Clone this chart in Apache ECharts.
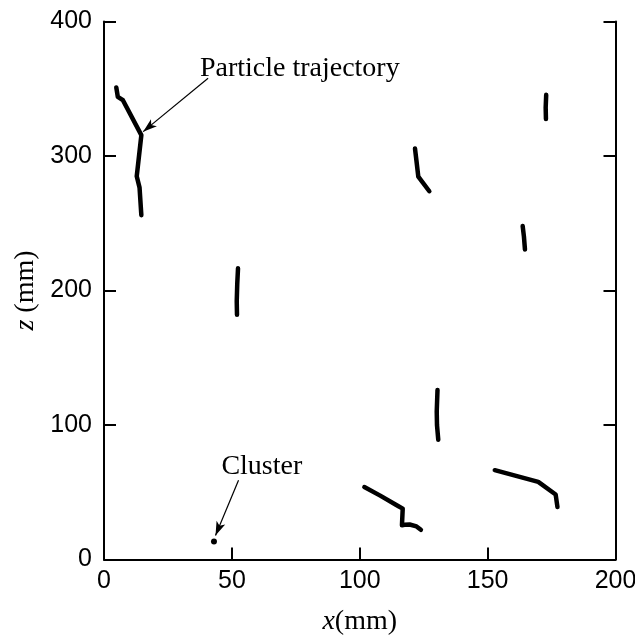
<!DOCTYPE html>
<html>
<head>
<meta charset="utf-8">
<script src="https://cdn.jsdelivr.net/npm/echarts@6/dist/echarts.min.js"></script>
<style>html,body{margin:0;padding:0;background:#fff}#c{width:635px;height:636px}</style>
</head>
<body>
<div id="c"></div>
<script>
// Axis ticks
const xTicks = [0, 50, 100, 150, 200];
const zTicks = [0, 100, 200, 300, 400];

// Particle trajectories (x mm, z mm)
const traj1 = [[4.8,351],[5.4,344],[7.4,341.5],[14.6,315.5],[12.8,285],[13.9,276.5],[14.6,256]];
const traj2 = [[52.4,216.5],[52.1,205],[51.9,192],[52.0,182]];
const traj3 = [[121.6,305.5],[122.2,296],[122.9,284.6],[127.2,273.8]];
const traj4 = [[172.9,345.5],[172.7,336],[172.8,327.5]];
const traj5 = [[163.7,248],[164.2,240],[164.6,230.5]];
const traj6 = [[130.4,126],[130.1,110],[130.2,100],[130.7,89]];
const traj7 = [[101.8,53.9],[108,47.5],[114.8,40],[116.8,37.8],[116.5,25.4],[117.5,25.8],[119.5,26],[122.2,24.6],[123.9,22.1]];
const traj8 = [[152.8,66.4],[169.8,57.7],[176.6,48.3],[177.3,39]];
const trajectories = [traj1, traj2, traj3, traj4, traj5, traj6, traj7, traj8];

// Cluster point
const cluster = [[43.0,13.4]];

// Annotations
const annoTexts = ['Particle trajectory', 'Cluster'];
const annoPos = [[37.5,364.8],[45.9,68.8]];
const arrowFrom = [[40.7,357.8],[52.6,58.9]];
const arrowTo = [[15.3,318.1],[43.6,17.8]];

const chart = echarts.init(document.getElementById('c'));
const serif = '"Liberation Serif","Times New Roman",serif';
const sans = '"Liberation Sans",Arial,sans-serif';

const series = trajectories.map(t => ({
  type: 'line', data: t, showSymbol: false, symbol: 'none', silent: true,
  lineStyle: {color: '#000', width: 4.5, cap: 'round', join: 'round', opacity: 1},
  z: 3
}));
series.push({
  type: 'scatter', data: cluster, symbol: 'circle', symbolSize: 6,
  itemStyle: {color: '#000', opacity: 1}, silent: true, z: 3
});
series.push({
  type: 'scatter', silent: true, symbolSize: 0,
  itemStyle: {color: '#000', opacity: 1},
  data: annoPos.map((p, i) => ({value: p, name: annoTexts[i]})),
  label: {show: true, position: 'right', distance: 0, formatter: '{b}',
    fontFamily: serif, fontSize: 28, color: '#000', opacity: 1},
  markLine: {
    silent: true, symbol: ['none', 'arrow'], symbolSize: [7, 14],
    label: {show: false},
    lineStyle: {color: '#000', width: 1.2, type: 'solid', opacity: 1},
    data: arrowFrom.map((f, i) => [{coord: f}, {coord: arrowTo[i]}])
  }
});

chart.setOption({
  animation: false,
  backgroundColor: '#fff',
  grid: {left: 104, right: 19.5, top: 21.5, bottom: 76.5, containLabel: false, outerBoundsMode: 'none'},
  xAxis: {
    type: 'value', min: 0, max: 200, interval: 50,
    name: '{i|x}(mm)', nameLocation: 'middle', nameGap: 48,
    nameTextStyle: {fontFamily: serif, fontSize: 28, color: '#000',
      rich: {i: {fontFamily: serif, fontStyle: 'italic', fontSize: 28, color: '#000'}}},
    axisLine: {show: true, lineStyle: {color: '#000', width: 2}},
    axisTick: {show: true, inside: true, length: 12, lineStyle: {color: '#000', width: 2}},
    axisLabel: {color: '#000', fontFamily: sans, fontSize: 25, margin: 9,
      formatter: v => xTicks.includes(v) ? String(v) : ''},
    splitLine: {show: false}
  },
  yAxis: [{
    type: 'value', min: 0, max: 400, interval: 100, position: 'left',
    name: '{i|z} (mm)', nameLocation: 'middle', nameGap: 61, nameRotate: 90,
    nameTextStyle: {fontFamily: serif, fontSize: 28, color: '#000',
      rich: {i: {fontFamily: serif, fontStyle: 'italic', fontSize: 28, color: '#000'}}},
    axisLine: {show: true, lineStyle: {color: '#000', width: 2}},
    axisTick: {show: true, inside: true, length: 12, lineStyle: {color: '#000', width: 2}},
    axisLabel: {color: '#000', fontFamily: sans, fontSize: 25, margin: 12,
      formatter: v => zTicks.includes(v) ? String(v) : ''},
    splitLine: {show: false}
  }, {
    type: 'value', min: 0, max: 400, interval: 100, position: 'right',
    axisLine: {show: true, lineStyle: {color: '#000', width: 2}},
    axisTick: {show: true, inside: true, length: 12, lineStyle: {color: '#000', width: 2}},
    axisLabel: {show: false},
    splitLine: {show: false}
  }],
  series: series
});
</script>
</body>
</html>
